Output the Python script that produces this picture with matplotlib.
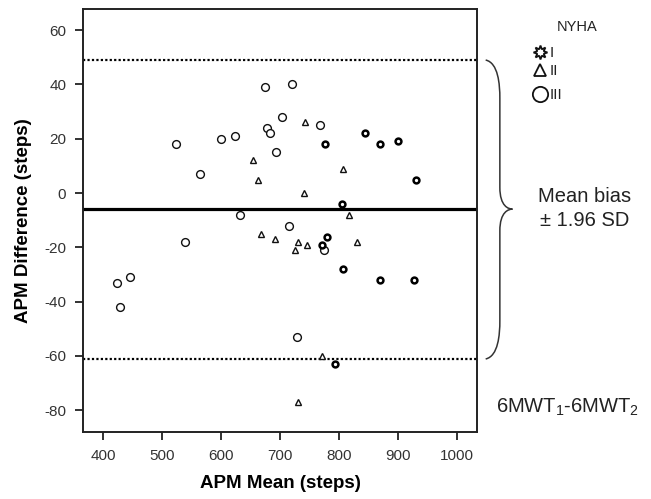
import matplotlib
matplotlib.use("Agg")
import matplotlib.pyplot as plt
from matplotlib.path import Path
from matplotlib.patches import PathPatch
from matplotlib.lines import Line2D
import matplotlib.transforms as mtransforms

plt.rcParams['font.family'] = ['Liberation Sans', 'DejaVu Sans']
plt.rcParams['mathtext.fontset'] = 'custom'
plt.rcParams['mathtext.rm'] = 'Liberation Sans'
plt.rcParams['axes.unicode_minus'] = False

# NYHA III (open circles)
mean_iii = [524, 564, 600, 623, 675, 720, 678, 683, 703, 693, 768, 632, 715, 539, 423, 445, 428, 729, 775]
diff_iii = [18, 7, 20, 21, 39, 40, 24, 22, 28, 15, 25, -8, -12, -18, -33, -31, -42, -53, -21]
# NYHA II (triangles)
mean_ii = [655, 663, 741, 743, 668, 692, 731, 725, 745, 806, 817, 831, 771, 731]
diff_ii = [12, 5, 0, 26, -15, -17, -18, -21, -19, 9, -8, -18, -60, -77]
# NYHA I (small bold marks)
mean_i = [776, 844, 869, 900, 930, 805, 780, 772, 807, 870, 928, 794]
diff_i = [18, 22, 18, 19, 5, -4, -16, -19, -28, -32, -32, -63]

bias = -5.9
upper_loa = 49.0
lower_loa = -61.1

x_ticks = [400, 500, 600, 700, 800, 900, 1000]
y_ticks = [-80, -60, -40, -20, 0, 20, 40, 60]

fig = plt.figure(figsize=(6.51, 4.99), dpi=100)
ax = fig.add_axes([83 / 651, 1 - 432 / 499, 394 / 651, 423 / 499])

ax.axhline(bias, color='black', lw=2.3, zorder=1)
ax.axhline(upper_loa, color='black', lw=1.6, ls=(0, (1, 1)), zorder=1)
ax.axhline(lower_loa, color='black', lw=1.6, ls=(0, (1, 1)), zorder=1)

ax.plot(mean_iii, diff_iii, 'o', ms=5.6, mfc='white', mec='#111', mew=1.0, zorder=3)
ax.plot(mean_ii, diff_ii, '^', ms=4.2, mfc='white', mec='#111', mew=1.0, zorder=3)
ax.plot(mean_i, diff_i, 'o', ms=4.2, mfc='white', mec='#000', mew=1.8, zorder=3)

ax.set_xlim(366, 1034)
ax.set_ylim(-88, 67.8)
ax.set_xticks(x_ticks)
ax.set_yticks(y_ticks)
ax.tick_params(direction='out', length=6, width=1.3, colors='#222', labelsize=11,
               labelcolor='#333', pad=6)
for s in ax.spines.values():
    s.set_linewidth(1.4)
    s.set_color('#222')

ax.set_xlabel('APM Mean (steps)', fontsize=13.5, fontweight='bold', labelpad=9)
ax.set_ylabel('APM Difference (steps)', fontsize=13.5, fontweight='bold', labelpad=9)

# curly brace spanning the limits of agreement
tr = mtransforms.blended_transform_factory(ax.transAxes, ax.transData)
xa, xb, xt = 1.022, 1.058, 1.09
mid = bias
verts = [
    (xa, upper_loa), (xb - 0.004, upper_loa - 1), (xb, upper_loa - 9), (xb, upper_loa - 14),
    (xb, mid + 8),
    (xb, mid + 1), (xt - 0.01, mid), (xt, mid),
    (xt - 0.01, mid), (xb, mid - 1), (xb, mid - 8),
    (xb, lower_loa + 14),
    (xb, lower_loa + 9), (xb - 0.004, lower_loa + 1), (xa, lower_loa),
]
codes = [Path.MOVETO, Path.CURVE4, Path.CURVE4, Path.CURVE4,
         Path.LINETO,
         Path.CURVE4, Path.CURVE4, Path.CURVE4,
         Path.CURVE4, Path.CURVE4, Path.CURVE4,
         Path.LINETO,
         Path.CURVE4, Path.CURVE4, Path.CURVE4]
brace = PathPatch(Path(verts, codes), transform=tr, fill=False, lw=1.1,
                  edgecolor='#333', clip_on=False)
ax.add_patch(brace)

fig.text(585 / 651, 1 - 196 / 499, 'Mean bias', ha='center', va='center', fontsize=14.5, color='#222')
fig.text(585 / 651, 1 - 220 / 499, '\u00b1 1.96 SD', ha='center', va='center', fontsize=14.5, color='#222')
fig.text(568 / 651, 1 - 407 / 499, r'6MWT$_\mathregular{1}$-6MWT$_\mathregular{2}$',
         ha='center', va='center', fontsize=14.5, color='#222')

# legend
fig.text(577 / 651, 1 - 27 / 499, 'NYHA', ha='center', va='center', fontsize=10.5, color='#222')
leg_marks = [((8, 1, 0), 10, 'I'), ('^', 9, 'II'), ('o', 11, 'III')]
leg_y = [52, 70, 94]
for (mk, ms, lab), yy in zip(leg_marks, leg_y):
    fig.add_artist(Line2D([540 / 651], [1 - yy / 499], marker=mk, ms=ms, mfc='white',
                          mec='#111', mew=1.3, ls='none', transform=fig.transFigure))
    fig.text(550 / 651, 1 - (yy + 1) / 499, lab, ha='left', va='center', fontsize=11,
             color='#222')

fig.savefig('out.png', dpi=100)
